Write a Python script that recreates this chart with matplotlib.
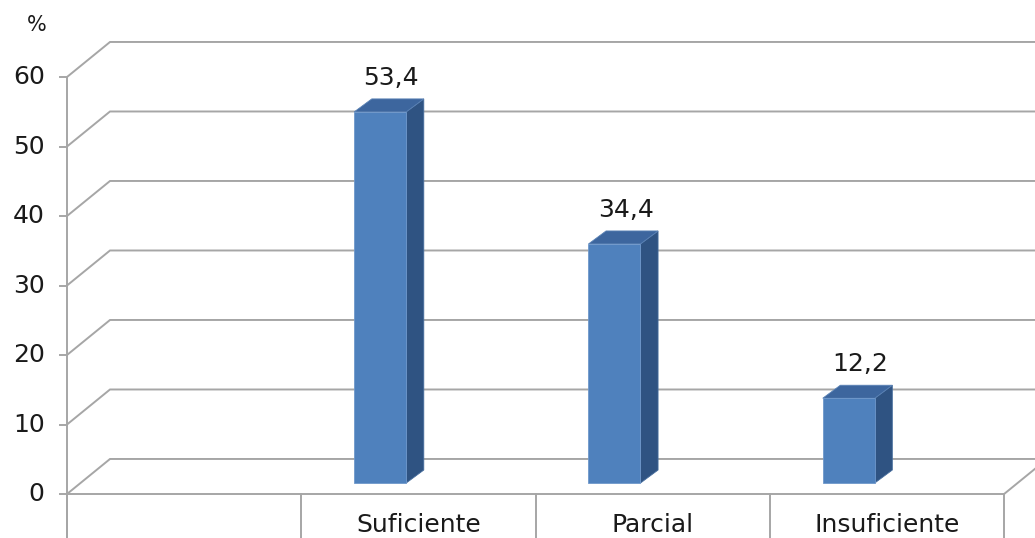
import numpy as np
import matplotlib
matplotlib.use("Agg")
import matplotlib.pyplot as plt
from matplotlib.patches import Polygon

# chart data
categories = ['', 'Suficiente', 'Parcial', 'Insuficiente']
bar_cats = [1, 2, 3]
values = [53.4, 34.4, 12.2]
value_labels = ['53,4', '34,4', '12,2']
yticks = [0, 10, 20, 30, 40, 50, 60]

# pseudo 3d geometry (data units)
wall_dx, wall_dy = 0.1836, 5.04      # depth of the back wall
bar_off_x, bar_off_y = 0.226, 1.58   # front face of the bars inside each band
bar_w = 0.222
bar_dx, bar_dy = 0.075, 1.87         # bar depth

grid_col = '#A6A6A6'
txt_col = '#1a1a1a'
front_col = '#4F81BD'
side_col = '#2F5382'
top_col = '#3D669E'

plt.rcParams['font.family'] = ['DejaVu Sans']

fig = plt.figure(figsize=(10.35, 5.38), dpi=100)
ax = fig.add_axes([0, 0, 1, 1])
ax.set_xlim(-0.286, 4.132)
ax.set_ylim(-6.33, 71.08)
ax.axis('off')

n = len(categories)

# gridlines (left wall + back wall)
for v in yticks:
    ax.plot([0, wall_dx, n + wall_dx + 0.5], [v, v + wall_dy, v + wall_dy],
            color=grid_col, lw=1.4, solid_joinstyle='miter', zorder=1)
    ax.plot([-0.03, 0], [v, v], color=grid_col, lw=1.4, zorder=1)
    ax.text(-0.095, v, str(v), ha='right', va='center', fontsize=18, color=txt_col)

# floor edges and axis
ax.plot([0, n], [0, 0], color=grid_col, lw=1.4, zorder=1)
ax.plot([n, n + wall_dx], [0, wall_dy], color=grid_col, lw=1.4, zorder=1)
ax.plot([0, 0], [-10, yticks[-1]], color=grid_col, lw=1.4, zorder=1)
for i in range(n + 1):
    ax.plot([i, i], [0, -10], color=grid_col, lw=1.4, zorder=1)

# category labels
for i, c in enumerate(categories):
    ax.text(i + 0.5, -4.4, c, ha='center', va='center', fontsize=18, color=txt_col)

ax.text(-0.128, 67.5, '%', ha='center', va='center', fontsize=15, color=txt_col)

# bars
for cat, v, lab in zip(bar_cats, values, value_labels):
    x0 = cat + bar_off_x
    x1 = x0 + bar_w
    y0 = bar_off_y
    y1 = bar_off_y + v
    front = [(x0, y0), (x1, y0), (x1, y1), (x0, y1)]
    side = [(x1, y0), (x1 + bar_dx, y0 + bar_dy), (x1 + bar_dx, y1 + bar_dy), (x1, y1)]
    top = [(x0, y1), (x1, y1), (x1 + bar_dx, y1 + bar_dy), (x0 + bar_dx, y1 + bar_dy)]
    ax.add_patch(Polygon(side, closed=True, facecolor=side_col, edgecolor='#476E9E', lw=0.6, zorder=3))
    ax.add_patch(Polygon(top, closed=True, facecolor=top_col, edgecolor='#5A82B5', lw=0.6, zorder=3))
    ax.add_patch(Polygon(front, closed=True, facecolor=front_col, edgecolor='#6F98CB', lw=0.6, zorder=4))
    ax.text((x0 + x1 + bar_dx) / 2 + 0.01, y1 + bar_dy + 3.0, lab, ha='center', va='center',
            fontsize=18, color=txt_col)

fig.savefig('out.png', dpi=100)
